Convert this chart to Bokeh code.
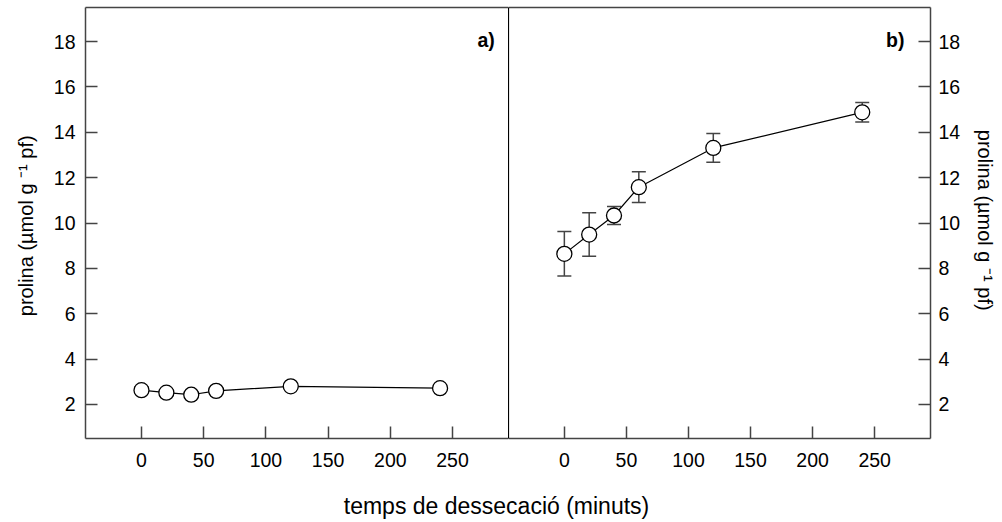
from bokeh.plotting import figure
from bokeh.models import (ColumnDataSource, Whisker, TeeHead, LinearAxis,
                          FixedTicker, Range1d, Label)
from bokeh.layouts import column, row
from bokeh.embed import file_html
from bokeh.resources import INLINE

# ---- data ----
time_min = [0, 20, 40, 60, 120, 240]
prolina_a = [2.63, 2.52, 2.43, 2.60, 2.80, 2.72]
err_a = [0.15, 0.12, 0.10, 0.12, 0.10, 0.10]
prolina_b = [8.64, 9.49, 10.33, 11.58, 13.31, 14.88]
err_b = [0.98, 0.96, 0.40, 0.68, 0.63, 0.43]
x_ticks = [0, 50, 100, 150, 200, 250]
y_ticks = [2, 4, 6, 8, 10, 12, 14, 16, 18]
panel_labels = ["a)", "b)"]
y_title = "prolina (µmol g \u207B\u00B9  pf)"
x_title = "temps de dessecació (minuts)"

FONT = "Liberation Sans"
AX_COL = "#444444"
TICK_FS = "19.5px"
YTITLE_FS = "20px"
XTITLE_FS = "23px"

X_RANGE = (-45, 295)
Y_RANGE = (0.5, 19.5)


def style_axis(ax, standoff):
    ax.axis_line_color = AX_COL
    ax.axis_line_width = 1.5
    ax.major_tick_line_color = AX_COL
    ax.major_tick_line_width = 1.5
    ax.major_tick_in = 12
    ax.major_tick_out = 0
    ax.minor_tick_line_color = None
    ax.major_label_standoff = standoff
    ax.major_label_text_font = FONT
    ax.major_label_text_font_size = TICK_FS
    ax.major_label_text_color = "black"


def line_only_axis(color=AX_COL, width=1.5):
    ax = LinearAxis(ticker=FixedTicker(ticks=[]))
    ax.axis_line_color = color
    ax.axis_line_width = width
    ax.major_tick_in = 0
    ax.major_tick_out = 0
    ax.minor_tick_in = 0
    ax.minor_tick_out = 0
    ax.major_label_standoff = 0
    return ax


def make_panel(y, err, width, ylabel_side, border_left, border_right):
    p = figure(width=width, height=478,
               x_range=Range1d(*X_RANGE), y_range=Range1d(*Y_RANGE),
               output_backend="svg", toolbar_location=None,
               min_border_left=border_left, min_border_right=border_right,
               min_border_top=7, min_border_bottom=40,
               x_axis_location="below", y_axis_location=ylabel_side,
               outline_line_color=None, background_fill_color="white")
    p.xgrid.visible = False
    p.ygrid.visible = False
    p.xaxis.ticker = FixedTicker(ticks=x_ticks)
    p.yaxis.ticker = FixedTicker(ticks=y_ticks)
    style_axis(p.xaxis[0], 14)
    style_axis(p.yaxis[0], 10 if ylabel_side == "left" else 8)
    ya = p.yaxis[0]
    ya.axis_label = y_title
    ya.axis_label_text_font = FONT
    ya.axis_label_text_font_size = YTITLE_FS
    ya.axis_label_text_font_style = "normal"
    ya.axis_label_text_color = "black"
    ya.axis_label_standoff = 14 if ylabel_side == "left" else 11

    p.add_layout(line_only_axis(), "above")

    src = ColumnDataSource(dict(
        x=time_min, y=y,
        lo=[v - e for v, e in zip(y, err)],
        hi=[v + e for v, e in zip(y, err)]))
    w = Whisker(base="x", lower="lo", upper="hi", source=src,
                line_color=AX_COL, line_width=1.5, level="underlay",
                upper_head=TeeHead(size=14, line_color=AX_COL, line_width=1.5),
                lower_head=TeeHead(size=14, line_color=AX_COL, line_width=1.5))
    p.add_layout(w)
    p.line("x", "y", source=src, line_color="black", line_width=1.2)
    p.scatter("x", "y", source=src, size=15, marker="circle",
              fill_color="white", line_color="black", line_width=1.3)
    return p


p1 = make_panel(prolina_a, err_a, 508, "left", 85, 0)
p1.add_layout(Label(x=284, y=18.07, text=panel_labels[0], text_align="right",
                    text_baseline="middle", text_font=FONT,
                    text_font_size="19.5px", text_font_style="bold",
                    text_color="black"))

p2 = make_panel(prolina_b, err_b, 494, "right", 0, 72)
p2.add_layout(line_only_axis(color="black", width=1.2), "left")
p2.add_layout(Label(x=274, y=18.07, text=panel_labels[1], text_align="right",
                    text_baseline="middle", text_font=FONT,
                    text_font_size="19.5px", text_font_style="bold",
                    text_color="black"))

p3 = figure(width=1002, height=44, x_range=Range1d(0, 1002),
            y_range=Range1d(0, 44), output_backend="svg",
            toolbar_location=None, min_border=0, outline_line_color=None)
p3.axis.visible = False
p3.xgrid.visible = False
p3.ygrid.visible = False
p3.add_layout(Label(x=496, y=17, text=x_title, text_align="center",
                    text_baseline="middle", text_font=FONT,
                    text_font_size=XTITLE_FS, text_color="black"))

layout = column(row(p1, p2, spacing=0), p3, spacing=0)
open("out.html", "w").write(file_html(layout, INLINE))
